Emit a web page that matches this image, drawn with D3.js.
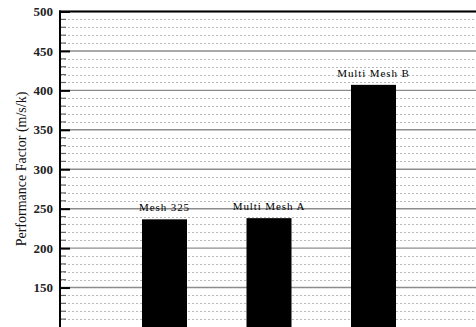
<!DOCTYPE html>
<html>
<head>
<meta charset="utf-8">
<script src="https://cdn.jsdelivr.net/npm/d3@7"></script>
<style>
  html, body { margin: 0; padding: 0; background: #fff; }
  svg { display: block; }
</style>
</head>
<body>
<svg id="chart" width="476" height="327"></svg>
<script>
// Performance factor per mesh configuration
const categories = ["Mesh 325", "Multi Mesh A", "Multi Mesh B"];
const values = [236.5, 238, 407];
const majorTicks = [150, 200, 250, 300, 350, 400, 450, 500];
const minorStep = 10;

const W = 476, H = 327;
const serif = "Liberation Serif, Times New Roman, serif";
const svg = d3.select("#chart");

const y = d3.scaleLinear().domain([100, 500]).range([327, 11.5]);
const x = d3.scaleLinear().domain([0, 4]).range([60, 478]);
const barW = 45;

const minorTicks = d3.range(100, 500 + 1e-9, minorStep).filter(v => v % 50 !== 0);

// minor dotted grid
svg.append("g").selectAll("line").data(minorTicks).join("line")
  .attr("x1", 60).attr("x2", W)
  .attr("y1", d => Math.round(y(d)) + 0.5).attr("y2", d => Math.round(y(d)) + 0.5)
  .attr("stroke", "#b8b8b8").attr("stroke-width", 1).attr("stroke-dasharray", "2,2");

// major solid grid
svg.append("g").selectAll("line").data(majorTicks).join("line")
  .attr("x1", 60).attr("x2", W)
  .attr("y1", d => y(d)).attr("y2", d => y(d))
  .attr("stroke", "#8c8c8c").attr("stroke-width", 1.4);

// bars
svg.append("g").selectAll("rect").data(values).join("rect")
  .attr("x", (d, i) => x(i + 1) - barW / 2)
  .attr("y", d => y(d))
  .attr("width", barW)
  .attr("height", d => y(100) - y(d) + 5)
  .attr("fill", "#000");

// bar names
svg.append("g").selectAll("text").data(categories).join("text")
  .attr("x", (d, i) => x(i + 1))
  .attr("y", (d, i) => y(values[i]) - 8)
  .attr("text-anchor", "middle")
  .style("font-family", serif)
  .style("font-size", "11px")
  .style("letter-spacing", "0.9px")
  .attr("fill", "#000")
  .text(d => d);

// y axis with inward ticks
const axis = d3.axisLeft(y).tickValues(majorTicks).tickSize(-10).tickPadding(7).tickFormat(d3.format("d"));
const ga = svg.append("g").attr("transform", "translate(60,0)").call(axis);
ga.select(".domain").remove();
ga.selectAll(".tick line").attr("stroke", "#000").attr("stroke-width", 2);
ga.selectAll(".tick text")
  .style("font-family", serif)
  .style("font-size", "13px")
  .style("font-weight", "bold")
  .attr("fill", "#222");

// minor ticks
svg.append("g").selectAll("line").data(minorTicks).join("line")
  .attr("x1", 60).attr("x2", 66)
  .attr("y1", d => y(d)).attr("y2", d => y(d))
  .attr("stroke", "#666").attr("stroke-width", 1.2);

// frame: left axis and top border
svg.append("line").attr("x1", 60).attr("x2", 60).attr("y1", y(500) - 1).attr("y2", H)
  .attr("stroke", "#000").attr("stroke-width", 2);
svg.append("line").attr("x1", 59).attr("x2", W).attr("y1", y(500)).attr("y2", y(500))
  .attr("stroke", "#000").attr("stroke-width", 2);

// y axis title
svg.append("text")
  .attr("transform", "translate(26,169) rotate(-90)")
  .attr("text-anchor", "middle")
  .style("font-family", serif)
  .style("font-size", "14px")
  .attr("fill", "#111")
  .text("Performance Factor (m/s/k)");
</script>
</body>
</html>
